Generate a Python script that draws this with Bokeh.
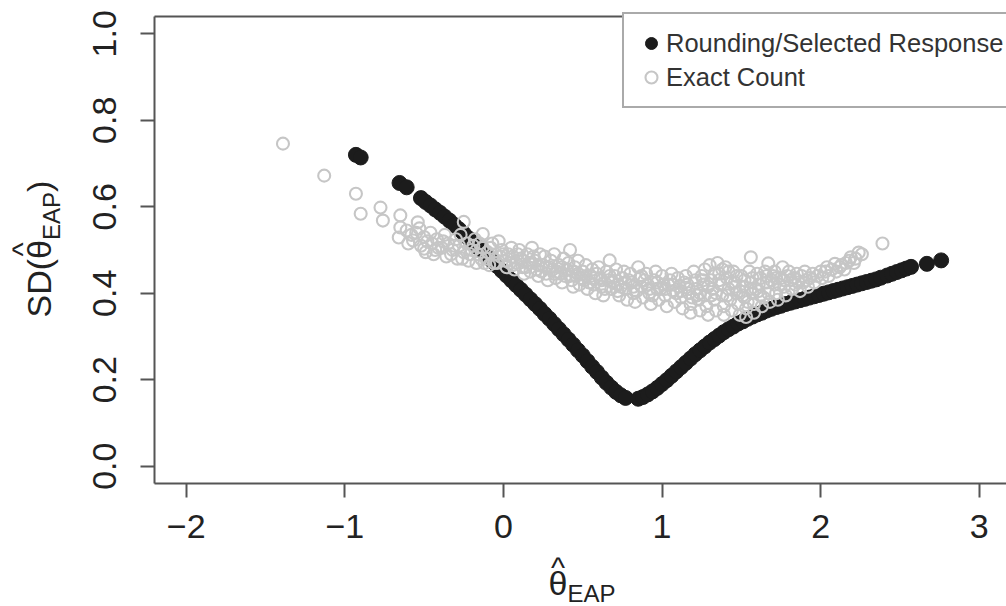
import math
from bokeh.plotting import figure
from bokeh.models import Range1d, LinearAxis, FixedTicker, Label, PrintfTickFormatter, Legend, LegendItem
from bokeh.embed import file_html
from bokeh.resources import INLINE

# ---------------- data ----------------
rounding_x = [-0.93, -0.90, -0.655, -0.61,
              -0.52, -0.49, -0.46, -0.43, -0.40, -0.37, -0.34, -0.31, -0.28, -0.25,
              -0.22, -0.19, -0.16, -0.13, -0.10, -0.07, -0.04, -0.01, 0.02, 0.05,
              0.08, 0.11, 0.14, 0.17, 0.20, 0.23, 0.26, 0.29, 0.32, 0.35, 0.38,
              0.41, 0.44, 0.47, 0.50, 0.53, 0.56, 0.59, 0.62, 0.65, 0.68, 0.71,
              0.74, 0.77,
              0.85, 0.88, 0.91, 0.94, 0.97, 1.00, 1.03, 1.06, 1.09, 1.12, 1.15,
              1.18, 1.21, 1.24, 1.27, 1.30, 1.33, 1.36, 1.39, 1.42, 1.45, 1.48,
              1.51, 1.54, 1.57, 1.60, 1.63, 1.66, 1.69, 1.72, 1.75, 1.78, 1.81,
              1.84, 1.87, 1.90, 1.93, 1.96, 1.99, 2.02, 2.05, 2.08, 2.11, 2.14,
              2.17, 2.20, 2.23, 2.26, 2.29, 2.32, 2.35, 2.38, 2.42, 2.45, 2.48,
              2.51, 2.54, 2.57, 2.67, 2.76]
rounding_y = [0.720, 0.714, 0.655, 0.645,
              0.620, 0.611, 0.603, 0.594, 0.586, 0.577, 0.568, 0.558, 0.548, 0.538,
              0.527, 0.517, 0.506, 0.496, 0.485, 0.474, 0.463, 0.452, 0.441, 0.430,
              0.419, 0.408, 0.397, 0.386, 0.375, 0.364, 0.352, 0.341, 0.329, 0.317, 0.305,
              0.293, 0.281, 0.268, 0.256, 0.243, 0.230, 0.218, 0.205, 0.193, 0.182, 0.172,
              0.164, 0.158,
              0.156, 0.160, 0.166, 0.173, 0.181, 0.190, 0.199, 0.209, 0.219, 0.229, 0.239,
              0.249, 0.259, 0.268, 0.277, 0.286, 0.294, 0.302, 0.310, 0.317, 0.323, 0.330,
              0.335, 0.341, 0.346, 0.351, 0.355, 0.360, 0.364, 0.368, 0.371, 0.375, 0.378,
              0.381, 0.384, 0.387, 0.390, 0.393, 0.396, 0.399, 0.402, 0.405, 0.408, 0.411,
              0.414, 0.417, 0.420, 0.423, 0.426, 0.429, 0.432, 0.436, 0.441, 0.445, 0.449,
              0.453, 0.457, 0.461, 0.468, 0.476]

exact_pts = [
    (-1.39, 0.746), (-1.13, 0.672), (-0.93, 0.630), (-0.90, 0.584), (-0.775, 0.598),
    (-0.76, 0.568), (-0.65, 0.580), (-0.65, 0.552), (-0.66, 0.529), (-0.54, 0.564),
    (-0.57, 0.522), (-0.50, 0.503),
    (-0.61, 0.545), (-0.60, 0.515), (-0.58, 0.535),
    (-0.53, 0.550), (-0.52, 0.510), (-0.50, 0.530), (-0.49, 0.495),
    (-0.46, 0.540), (-0.45, 0.515), (-0.44, 0.490), (-0.42, 0.525),
    (-0.39, 0.505), (-0.37, 0.535), (-0.36, 0.485), (-0.35, 0.515),
    (-0.32, 0.500), (-0.30, 0.525), (-0.29, 0.480), (-0.28, 0.510),
    (-0.25, 0.565), (-0.25, 0.495), (-0.23, 0.515), (-0.22, 0.475),
    (-0.20, 0.500), (-0.18, 0.525), (-0.17, 0.470), (-0.16, 0.490),
    (-0.13, 0.537), (-0.13, 0.505), (-0.11, 0.480), (-0.10, 0.495), (-0.09, 0.465),
    (-0.07, 0.515), (-0.05, 0.490), (-0.04, 0.470), (-0.03, 0.520),
    (-0.01, 0.500), (0.01, 0.475), (0.02, 0.460), (0.03, 0.490),
    (0.05, 0.505), (0.06, 0.485), (0.07, 0.455), (0.08, 0.470),
    (0.10, 0.500), (0.11, 0.480), (0.12, 0.460), (0.13, 0.445),
    (0.15, 0.490), (0.16, 0.470), (0.17, 0.450), (0.18, 0.505),
    (0.20, 0.475), (0.21, 0.455), (0.22, 0.440), (0.23, 0.490),
    (0.25, 0.465), (0.26, 0.485), (0.27, 0.445), (0.28, 0.430),
    (0.30, 0.475), (0.31, 0.455), (0.32, 0.490), (0.33, 0.435),
    (0.35, 0.465), (0.36, 0.445), (0.37, 0.425), (0.38, 0.480),
    (0.40, 0.455), (0.41, 0.470), (0.42, 0.500), (0.43, 0.430), (0.44, 0.415),
    (0.45, 0.460), (0.46, 0.440), (0.47, 0.475), (0.48, 0.420),
    (0.50, 0.450), (0.51, 0.430), (0.52, 0.465), (0.53, 0.410),
    (0.55, 0.440), (0.56, 0.455), (0.57, 0.420), (0.58, 0.400),
    (0.60, 0.460), (0.61, 0.435), (0.62, 0.415), (0.63, 0.395),
    (0.65, 0.450), (0.66, 0.430), (0.67, 0.476), (0.68, 0.410),
    (0.70, 0.440), (0.71, 0.455), (0.72, 0.420), (0.73, 0.395),
    (0.75, 0.435), (0.76, 0.450), (0.77, 0.410), (0.78, 0.385),
    (0.80, 0.445), (0.81, 0.425), (0.82, 0.400), (0.83, 0.380),
    (0.85, 0.460), (0.86, 0.435), (0.87, 0.415), (0.88, 0.390),
    (0.90, 0.445), (0.91, 0.420), (0.92, 0.400), (0.93, 0.375),
    (0.95, 0.430), (0.96, 0.450), (0.97, 0.410), (0.98, 0.385),
    (1.00, 0.440), (1.01, 0.420), (1.02, 0.395), (1.03, 0.370),
    (1.05, 0.430), (1.06, 0.445), (1.07, 0.405), (1.08, 0.380),
    (1.10, 0.435), (1.11, 0.415), (1.12, 0.390), (1.13, 0.365),
    (1.15, 0.440), (1.16, 0.420), (1.17, 0.400), (1.18, 0.375), (1.18, 0.355),
    (1.20, 0.450), (1.21, 0.430), (1.22, 0.410), (1.23, 0.385), (1.24, 0.360),
    (1.25, 0.440), (1.26, 0.420), (1.27, 0.395), (1.28, 0.370), (1.29, 0.350),
    (1.30, 0.465), (1.31, 0.430), (1.32, 0.410), (1.33, 0.385), (1.34, 0.360),
    (1.35, 0.470), (1.36, 0.445), (1.37, 0.420), (1.38, 0.395), (1.39, 0.370), (1.39, 0.350),
    (1.40, 0.460), (1.41, 0.435), (1.42, 0.410), (1.43, 0.385), (1.44, 0.360),
    (1.45, 0.450), (1.46, 0.425), (1.47, 0.400), (1.48, 0.375), (1.49, 0.350),
    (1.50, 0.440), (1.51, 0.415), (1.52, 0.390), (1.53, 0.365), (1.53, 0.345),
    (1.56, 0.483), (1.55, 0.450), (1.56, 0.425), (1.57, 0.400), (1.58, 0.375), (1.58, 0.355),
    (1.60, 0.445), (1.61, 0.420), (1.62, 0.395), (1.63, 0.370),
    (1.65, 0.450), (1.67, 0.469), (1.66, 0.425), (1.67, 0.400), (1.68, 0.380),
    (1.70, 0.440), (1.71, 0.420), (1.72, 0.400), (1.73, 0.385),
    (1.76, 0.460), (1.75, 0.435), (1.77, 0.415), (1.78, 0.395),
    (1.80, 0.450), (1.81, 0.430), (1.82, 0.410),
    (1.85, 0.445), (1.86, 0.425), (1.87, 0.405),
    (1.90, 0.450), (1.91, 0.430), (1.92, 0.415),
    (1.95, 0.445), (1.96, 0.425),
    (2.00, 0.450), (2.01, 0.435),
    (2.04, 0.460), (2.05, 0.440),
    (2.09, 0.468), (2.10, 0.450),
    (2.13, 0.465), (2.15, 0.455),
    (2.18, 0.475), (2.19, 0.483),
    (2.22, 0.480), (2.24, 0.494), (2.26, 0.490),
    (2.39, 0.515),
    (-0.55, 0.540), (-0.48, 0.520), (-0.41, 0.505), (-0.33, 0.490), (-0.27, 0.535),
    (-0.21, 0.490), (-0.15, 0.515), (-0.12, 0.470), (-0.08, 0.505), (-0.02, 0.485),
    (0.04, 0.470), (0.09, 0.490), (0.14, 0.460), (0.19, 0.485), (0.24, 0.450),
    (0.29, 0.460), (0.34, 0.450), (0.39, 0.440), (0.44, 0.450), (0.49, 0.435),
    (0.54, 0.425), (0.59, 0.445), (0.64, 0.410), (0.69, 0.425), (0.74, 0.415),
    (0.79, 0.430), (0.84, 0.405), (0.89, 0.430), (0.94, 0.395), (0.99, 0.410),
    (1.04, 0.420), (1.09, 0.400), (1.14, 0.425), (1.19, 0.390), (1.24, 0.400),
    (1.27, 0.455), (1.29, 0.415), (1.33, 0.445), (1.34, 0.400), (1.38, 0.455),
    (1.42, 0.450), (1.44, 0.425), (1.47, 0.440), (1.49, 0.405), (1.52, 0.430),
    (1.54, 0.380), (1.57, 0.435), (1.59, 0.410), (1.62, 0.435), (1.64, 0.390),
    (1.69, 0.430), (1.71, 0.450), (1.74, 0.420), (1.79, 0.440), (1.83, 0.435),
    (1.88, 0.440), (1.93, 0.435), (1.98, 0.440), (2.03, 0.450), (2.07, 0.455),
    (2.12, 0.460), (2.16, 0.470), (2.21, 0.470),
    (-0.43, 0.500), (-0.38, 0.520), (-0.31, 0.510), (-0.26, 0.480), (-0.19, 0.510),
    (-0.14, 0.480), (-0.06, 0.470), (0.00, 0.490), (0.06, 0.465), (0.12, 0.475),
    (0.17, 0.470), (0.22, 0.465), (0.27, 0.460), (0.32, 0.445), (0.37, 0.460),
    (0.42, 0.440), (0.47, 0.445), (0.52, 0.440), (0.57, 0.435), (0.62, 0.430),
    (0.67, 0.440), (0.72, 0.405), (0.77, 0.425), (0.82, 0.415), (0.87, 0.440),
    (0.92, 0.410), (0.97, 0.425), (1.02, 0.410), (1.07, 0.420), (1.12, 0.405),
    (1.17, 0.410), (1.22, 0.395), (1.26, 0.430), (1.31, 0.395), (1.36, 0.430),
    (1.41, 0.395), (1.46, 0.415), (1.51, 0.395), (1.56, 0.410), (1.61, 0.405),
    (1.66, 0.440), (1.72, 0.435), (1.77, 0.430), (1.84, 0.420), (1.89, 0.425),
]
exact_x = [p[0] for p in exact_pts]
exact_y = [p[1] for p in exact_pts]

x_ticks = [-2, -1, 0, 1, 2, 3]
y_ticks = [0.0, 0.2, 0.4, 0.6, 0.8, 1.0]
series_names = ["Rounding/Selected Response", "Exact Count"]

# ---------------- geometry ----------------
W, H = 1006, 606
BX0, BX1 = -2.2, 3.2      # plot box, data units
BY0, BY1 = -0.04, 1.04
PX_L, PX_B, PX_T = 154, 483, 16   # box edges on the canvas
KX = 158.6                # px per x unit
KY = (PX_B - PX_T) / (BY1 - BY0)

def dx(sx):
    return BX0 + (sx - PX_L) / KX

def dy(sy):
    return BY0 + (PX_B - sy) / KY

FONT = "Liberation Sans"
AX = "#555555"

p = figure(width=W, height=H, x_range=Range1d(dx(0), dx(W)), y_range=Range1d(dy(H), dy(0)),
           output_backend="svg", toolbar_location=None, min_border=0)
p.xgrid.visible = False
p.ygrid.visible = False
p.outline_line_color = None
p.background_fill_color = "white"
p.border_fill_color = "white"

for ax in (p.xaxis[0], p.yaxis[0]):
    ax.axis_line_color = AX
    ax.axis_line_width = 2
    ax.major_tick_line_color = AX
    ax.major_tick_line_width = 2
    ax.major_tick_out = 14
    ax.major_tick_in = 0
    ax.minor_tick_line_color = None
    ax.major_label_text_font = FONT
    ax.major_label_text_font_size = "34px"
    ax.major_label_text_color = "#222222"

p.xaxis.fixed_location = BY0
p.xaxis.bounds = (BX0, BX1)
p.xaxis.ticker = FixedTicker(ticks=x_ticks)
p.xaxis.major_label_overrides = {-2: "\u22122", -1: "\u22121"}
p.xaxis.major_label_standoff = 17

p.yaxis.fixed_location = BX0
p.yaxis.bounds = (BY0, BY1)
p.yaxis.ticker = FixedTicker(ticks=y_ticks)
p.yaxis.formatter = PrintfTickFormatter(format="%.1f")
p.yaxis.major_label_orientation = "vertical"
p.yaxis.major_label_standoff = 24

top = LinearAxis(ticker=FixedTicker(ticks=[]), axis_line_color=AX, axis_line_width=2,
                 major_label_text_font_size="0px", major_tick_line_color=None,
                 minor_tick_line_color=None, fixed_location=BY1, bounds=(BX0, BX1))
p.add_layout(top, "above")

r1 = p.scatter(rounding_x, rounding_y, size=15, marker="circle",
               fill_color="#1c1c1c", line_color="#1c1c1c", line_width=1)
r2 = p.scatter(exact_x, exact_y, size=12, marker="circle",
               fill_color=None, line_color="#c6c6c6", line_width=2.1)

legend = Legend(items=[LegendItem(label=series_names[0], renderers=[r1]),
                       LegendItem(label=series_names[1], renderers=[r2])],
                location=(622, H - 108), margin=0, padding=12, spacing=0,
                glyph_width=30, glyph_height=34, label_height=34, label_width=400,
                label_standoff=0, label_text_font=FONT, label_text_font_size="25.5px",
                label_text_color="#333333", border_line_color=AX, border_line_width=2,
                background_fill_color="white", background_fill_alpha=1)
p.add_layout(legend, "center")

# ---------------- axis titles (theta-hat with subscript) ----------------
def lab(sx, sy, txt, size, align="left", angle=0.0):
    p.add_layout(Label(x=dx(sx), y=dy(sy), text=txt, text_font=FONT,
                       text_font_size=size, text_color="#222222", text_align=align,
                       text_baseline="alphabetic", angle=angle))

# x title
lab(557.5, 582.5, "\u03b8", "34px", "center")
lab(557.5, 567, "^", "30px", "center")
lab(567, 592.5, "EAP", "24px", "left")

# y title (rotated)
A = math.pi / 2
lab(38.5, 317, "SD(", "34px", "left", A)
lab(38.5, 249, "\u03b8", "34px", "center", A)
lab(22, 249, "^", "30px", "center", A)
lab(50.5, 239.5, "EAP", "24px", "left", A)
lab(38.5, 191.5, ")", "34px", "left", A)

open("out.html", "w").write(file_html(p, INLINE))
